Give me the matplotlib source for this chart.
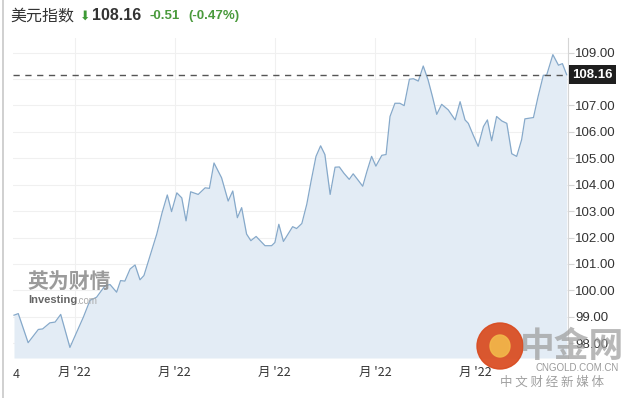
import matplotlib
matplotlib.use("Agg")
import matplotlib.pyplot as plt
from matplotlib.patches import Ellipse
from matplotlib.lines import Line2D

# ---- data ----
days = [0, 1.3, 4.3, 7.4, 8.7, 10.9, 12.5, 14.2, 17.0, 21.1, 23.1, 25.1, 27.7, 29.2,
        31.2, 32.4, 33.7, 35.3, 36.8, 38.3, 39.5, 43.4, 45.0, 46.6, 47.9, 49.5, 51.0,
        52.3, 53.7, 56.0, 58.1, 59.4, 60.8, 63.1, 65.1, 66.5, 67.9, 69.2, 70.7, 72.0,
        73.6, 76.3, 78.3, 79.3, 80.5, 81.9, 84.7, 85.9, 87.5, 89.0, 90.3, 91.8, 93.2,
        94.5, 96.1, 97.6, 98.9, 100.3, 101.9, 103.1, 104.6, 106.0, 107.3, 108.7, 110.0,
        111.8, 113.1, 114.3, 115.8, 117.3, 118.6, 120.2, 121.4, 122.9, 124.4, 125.9,
        127.2, 128.5, 130.0, 132.0, 134.1, 135.6, 137.1, 138.1, 139.5, 141.1, 142.7,
        143.9, 145.2, 146.7, 148.3, 149.8, 151.3, 152.8, 154.3, 155.3, 157.9, 159.3,
        160.9, 161.9, 163.8, 165.5, 166.7, 168.0]
values = [99.06, 99.12, 98.02, 98.52, 98.54, 98.77, 98.80, 99.09, 97.84, 98.99, 99.62,
          99.74, 100.18, 100.22, 99.93, 100.37, 100.35, 100.81, 100.96, 100.40, 100.56,
          102.13, 102.93, 103.61, 102.98, 103.69, 103.50, 102.63, 103.73, 103.63, 103.88,
          103.86, 104.82, 104.26, 103.38, 103.76, 102.75, 103.13, 102.13, 101.88, 102.04,
          101.69, 101.69, 101.81, 102.50, 101.85, 102.41, 102.34, 102.53, 103.26, 104.13,
          105.07, 105.47, 105.14, 103.63, 104.66, 104.67, 104.43, 104.20, 104.41, 104.17,
          103.94, 104.51, 105.07, 104.70, 105.11, 105.14, 106.58, 107.08, 107.08, 106.99,
          107.99, 108.01, 107.92, 108.49, 107.95, 107.33, 106.66, 107.04, 106.83, 106.45,
          107.14, 106.45, 106.32, 105.90, 105.45, 106.20, 106.45, 105.66, 106.58, 106.41,
          106.32, 105.17, 105.07, 105.70, 106.49, 106.54, 107.33, 108.14, 108.14, 108.92,
          108.52, 108.58, 108.16]
last_value = 108.16
change = "-0.51"
change_pct = "(-0.47%)"
title = "美元指数"
grid_y = [98, 99, 100, 101, 102, 103, 104, 105, 106, 107, 108, 109]
y_ticks = [98, 99, 100, 101, 102, 103, 104, 105, 106, 107, 109]
x_tick_pos = [18.5, 48.9, 79.3, 109.7, 140.1]
x_tick_labels = ["月 '22", "月 '22", "月 '22", "月 '22", "月 '22"]
first_label = "4"

CJK = ['Noto Sans CJK SC', 'DejaVu Sans']
plt.rcParams['font.family'] = ['Liberation Sans', 'Noto Sans CJK SC', 'DejaVu Sans']

W, H = 634, 398
fig = plt.figure(figsize=(W / 100, H / 100), dpi=100)
fig.patch.set_facecolor("white")

ax = fig.add_axes([13 / W, 40 / H, 555 / W, 320 / H])
ax.set_facecolor("white")
ax.set_xlim(-0.3, 168.4)
ax.set_ylim(97.44, 109.55)

# grid
for yv in grid_y:
    ax.axhline(yv, color="#f0f0f0", lw=0.8, zorder=0)
for xv in x_tick_pos:
    ax.axvline(xv, color="#f0f0f0", lw=0.8, zorder=0)

ax.fill_between(days, values, 97.44, color="#e3ecf5", zorder=1, lw=0)
ax.plot(days, values, color="#86a9ca", lw=0.9, zorder=2)
ax.axhline(last_value, color="#555555", lw=1.0, ls=(0, (4.5, 4)), zorder=3)

for s in ["left", "top", "bottom"]:
    ax.spines[s].set_visible(False)
ax.spines["right"].set_color("#d5d5d5")
ax.spines["right"].set_linewidth(0.8)

ax.yaxis.tick_right()
ax.set_yticks(y_ticks)
ax.set_yticklabels([f"{v:.2f}" for v in y_ticks])
ax.tick_params(axis="y", length=4, width=0.8, color="#d5d5d5", labelsize=9.5,
               labelcolor="#333333", pad=1)
ax.set_xticks(x_tick_pos)
ax.set_xticklabels(x_tick_labels, family=CJK)
ax.tick_params(axis="x", length=0, labelsize=9, labelcolor="#333333", pad=6)
ax.text(0.0, -0.035, first_label, transform=ax.transAxes, ha="left", va="top",
        fontsize=9, color="#333333")

# current value box
ax.annotate(f"{last_value:.2f}", xy=(1.0, last_value), xycoords=("axes fraction", "data"),
            xytext=(3, 0), textcoords="offset points", ha="left", va="center",
            fontsize=9.5, fontweight="bold", color="white",
            bbox=dict(boxstyle="square,pad=0.25", fc="#1e1e1e", ec="none"), zorder=6)

# header
fig.text(10 / W, 1 - 16 / H, title, family=CJK, fontsize=11.5, color="#333333",
         va="center", ha="left")
fig.text(80 / W, 1 - 16 / H, "⬇", family=['DejaVu Sans'], fontsize=9, color="#3d9a35",
         va="center", ha="left")
fig.text(92 / W, 1 - 16 / H, f"{last_value:.2f}", fontsize=11.5, fontweight="bold",
         color="#333333", va="center", ha="left")
fig.text(150 / W, 1 - 16 / H, change, fontsize=9.5, fontweight="bold", color="#4a9a3c",
         va="center", ha="left")
fig.text(188 / W, 1 - 16 / H, change_pct, fontsize=9.5, fontweight="bold",
         color="#4a9a3c", va="center", ha="left")

# screenshot left border
fig.add_artist(Line2D([3 / W, 3 / W], [0, 1], color="#c8c8c8", lw=1.2))

# watermarks
fig.text(27 / W, 1 - 281 / H, "英为财情", family=CJK, fontsize=15, fontweight="bold",
         color="#8a8a8a", alpha=0.85, va="center", ha="left")
fig.text(28 / W, 1 - 300 / H, "Investing", fontsize=8, fontweight="bold",
         color="#666666", va="center", ha="left")
fig.text(76 / W, 1 - 301 / H, ".com", fontsize=7, color="#aaaaaa", va="center", ha="left")
fig.add_artist(Ellipse((500 / W, 1 - 346 / H), 46 / W, 46 / H, transform=fig.transFigure,
                       color="#d94a1e", alpha=0.92, zorder=10))
fig.add_artist(Ellipse((500 / W, 1 - 346 / H), 20 / W, 22 / H, transform=fig.transFigure,
                       color="#f2b84a", alpha=0.9, zorder=10))
fig.text(572 / W, 1 - 346 / H, "中金网", family=CJK, fontsize=25, fontweight="bold",
         color="#a0a0a0", alpha=0.75, va="center", ha="center", zorder=11)
fig.text(577 / W, 1 - 368 / H, "CNGOLD.COM.CN", fontsize=7, color="#9a9a9a",
         va="center", ha="center", zorder=11)
fig.text(552 / W, 1 - 382 / H, "中 文 财 经 新 媒 体", family=CJK, fontsize=9,
         color="#a0a0a0", va="center", ha="center", zorder=11)

fig.savefig("out.png", dpi=100)
